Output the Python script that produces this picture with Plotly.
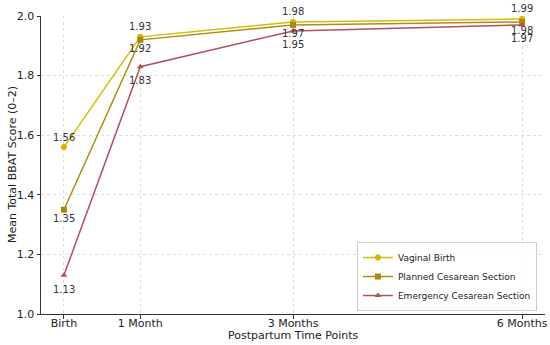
import plotly.graph_objects as go

time_points = [0, 1, 3, 6]
tick_labels = ["Birth", "1 Month", "3 Months", "6 Months"]
vaginal = [1.56, 1.93, 1.98, 1.99]
planned = [1.35, 1.92, 1.97, 1.98]
emergency = [1.13, 1.83, 1.95, 1.97]

series = [
    ("Vaginal Birth", vaginal, "#d6bc0a", "#e0b000", "circle", 10),
    ("Planned Cesarean Section", planned, "#b08c14", "#a8890f", "square", -9),
    ("Emergency Cesarean Section", emergency, "#b3505a", "#b3505a", "triangle-up", -14),
]

fig = go.Figure()
annotations = []
for name, vals, lc, mc, sym, shift in series:
    fig.add_trace(go.Scatter(
        x=time_points, y=vals, mode="lines+markers", name=name,
        line=dict(color=lc, width=1.5),
        marker=dict(color=mc, symbol=sym, size=6),
    ))
    for xv, yv in zip(time_points, vals):
        annotations.append(dict(
            x=xv, y=yv, xref="x", yref="y", text=f"{yv:.2f}", showarrow=False,
            yshift=shift, font=dict(size=10, color="#333333", family="DejaVu Sans"),
        ))

annotations.append(dict(
    x=(12 - 41) / 504, y=0.5, xref="paper", yref="paper", xanchor="center", yanchor="middle",
    text="Mean Total BBAT Score (0–2)", textangle=-90, showarrow=False,
    font=dict(size=11, color="#222222", family="DejaVu Sans"),
))
annotations.append(dict(
    x=0.5, y=-(335 - 314) / 298, xref="paper", yref="paper", xanchor="center", yanchor="middle",
    text="Postpartum Time Points", showarrow=False,
    font=dict(size=11, color="#222222", family="DejaVu Sans"),
))

fig.update_layout(
    width=550, height=345,
    margin=dict(l=41, r=5, t=16, b=31),
    paper_bgcolor="white", plot_bgcolor="white",
    font=dict(family="DejaVu Sans", size=11, color="#222222"),
    annotations=annotations,
    legend=dict(
        x=0.984, y=0.01, xanchor="right", yanchor="bottom",
        bgcolor="rgba(255,255,255,0.8)", bordercolor="#cccccc", borderwidth=1,
        font=dict(size=9, color="#222222"), tracegroupgap=0, itemwidth=30,
    ),
    xaxis=dict(
        range=[-0.3, 6.3], tickmode="array", tickvals=time_points, ticktext=tick_labels,
        showgrid=True, gridcolor="#dddddd", griddash="dot", gridwidth=1,
        showline=True, linecolor="#333333", linewidth=1,
        ticks="outside", ticklen=3.5, tickcolor="#333333",
        zeroline=False, automargin=False, ticklabelstandoff=-5,
        tickfont=dict(size=11),
    ),
    yaxis=dict(
        range=[1.0, 2.0], tickvals=[1.0, 1.2, 1.4, 1.6, 1.8, 2.0],
        tickformat=".1f",
        showgrid=True, gridcolor="#dddddd", griddash="dot", gridwidth=1,
        showline=True, linecolor="#333333", linewidth=1,
        ticks="outside", ticklen=3.5, tickcolor="#333333",
        zeroline=False, automargin=False,
        tickfont=dict(size=11),
    ),
    showlegend=True,
)

fig.write_html(
    "out.html",
    config={"displayModeBar": False},
    post_script="document.body.style.margin='0';document.body.style.overflow='hidden';",
)
